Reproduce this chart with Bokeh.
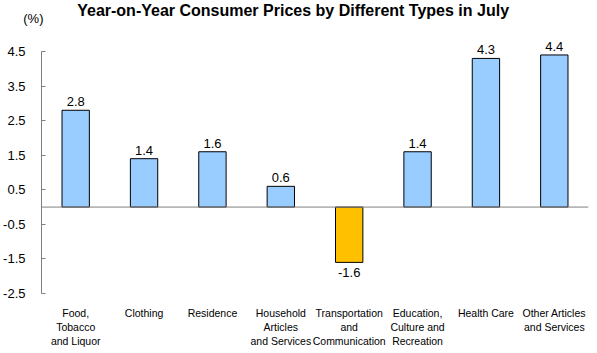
from bokeh.plotting import figure
from bokeh.layouts import column
from bokeh.models import ColumnDataSource, Range1d, FixedTicker, Span, NumeralTickFormatter
from bokeh.core.properties import value
from bokeh.embed import file_html
from bokeh.resources import INLINE

title_text = "Year-on-Year Consumer Prices by Different Types in July"
unit_text = "(%)"
categories = ["Food,\nTobacco\nand Liquor", "Clothing", "Residence", "Household\nArticles\nand Services",
              "Transportation\nand\nCommunication", "Education,\nCulture and\nRecreation", "Health Care",
              "Other Articles\nand Services"]
values = [2.8, 1.4, 1.6, 0.6, -1.6, 1.6, 4.3, 4.4]
value_labels = ["2.8", "1.4", "1.6", "0.6", "-1.6", "1.4", "4.3", "4.4"]
y_ticks = [-2.5, -1.5, -0.5, 0.5, 1.5, 2.5, 3.5, 4.5]

FONT = "Liberation Sans"
W, H = 597, 353
HEAD_H = 40
LEFT, RIGHT = 41, 9
xs = [i + 0.5 for i in range(len(categories))]
colors = ["#99CCFF" if v >= 0 else "#FFC000" for v in values]
x_range = Range1d(0, len(categories))

# ---- header: title and unit label ----
head = figure(width=W, height=HEAD_H, output_backend="svg", toolbar_location=None,
              x_range=x_range, y_range=Range1d(0, HEAD_H), x_axis_location=None,
              min_border_left=LEFT, min_border_right=RIGHT, min_border_top=0, min_border_bottom=0)
head.outline_line_color = None
head.xgrid.visible = False
head.ygrid.visible = False
unit_y = HEAD_H - 18
hy = head.yaxis[0]
hy.ticker = FixedTicker(ticks=[unit_y])
hy.major_label_overrides = {unit_y: unit_text}
hy.axis_line_color = None
hy.major_tick_line_color = None
hy.minor_tick_line_color = None
hy.major_tick_in = 0
hy.major_tick_out = 0
hy.major_label_standoff = -2
hy.major_label_text_font = FONT
hy.major_label_text_font_size = "13px"
hy.major_label_text_color = "black"
head.text(x=[3.68], y=[HEAD_H - 10], text=[title_text], text_align="center",
          text_baseline="middle", text_font=value(FONT), text_font_size="16px",
          text_font_style="bold", text_color="black")

# ---- main chart ----
px_per_unit = 34.57
bottom_border = 60
frame_h = (H - HEAD_H) - bottom_border
y_lo = min(y_ticks)
y_hi = y_lo + frame_h / px_per_unit

p = figure(width=W, height=H - HEAD_H, output_backend="svg", toolbar_location=None,
           x_range=x_range, y_range=Range1d(y_lo, y_hi),
           min_border_left=LEFT, min_border_right=RIGHT,
           min_border_top=0, min_border_bottom=bottom_border)
p.outline_line_color = None
p.xgrid.visible = False
p.ygrid.visible = False

ax = p.yaxis[0]
ax.ticker = FixedTicker(ticks=y_ticks)
ax.bounds = (min(y_ticks), max(y_ticks))
ax.formatter = NumeralTickFormatter(format="0.0")
ax.axis_line_color = "#808080"
ax.major_tick_line_color = "#808080"
ax.major_tick_in = 4
ax.major_tick_out = 0
ax.minor_tick_line_color = None
ax.major_label_standoff = 16
ax.major_label_text_font = FONT
ax.major_label_text_font_size = "13px"
ax.major_label_text_color = "black"

xa = p.xaxis[0]
xa.ticker = FixedTicker(ticks=xs)
xa.major_label_overrides = {x: c for x, c in zip(xs, categories)}
xa.axis_line_color = None
xa.major_tick_line_color = None
xa.minor_tick_line_color = None
xa.major_label_standoff = 7
xa.major_label_text_font = FONT
xa.major_label_text_font_size = "10.5px"
xa.major_label_text_line_height = 1.2
xa.major_label_text_color = "black"

p.add_layout(Span(location=0, dimension="width", line_color="#808080", line_width=1))

src = ColumnDataSource(dict(x=xs, top=values, color=colors))
p.vbar(x="x", top="top", bottom=0, width=0.4, fill_color="color", line_color="black",
       line_width=1, source=src)

pos = [i for i, v in enumerate(values) if v >= 0]
neg = [i for i, v in enumerate(values) if v < 0]
pos_src = ColumnDataSource(dict(x=[xs[i] for i in pos], y=[values[i] for i in pos],
                                t=[value_labels[i] for i in pos]))
neg_src = ColumnDataSource(dict(x=[xs[i] for i in neg], y=[values[i] for i in neg],
                                t=[value_labels[i] for i in neg]))
p.text(x="x", y="y", text="t", source=pos_src, text_align="center", text_baseline="bottom",
       y_offset=-4, text_font=value(FONT), text_font_size="13px", text_color="black")
p.text(x="x", y="y", text="t", source=neg_src, text_align="center", text_baseline="top",
       y_offset=6, text_font=value(FONT), text_font_size="13px", text_color="black")

layout = column(head, p, spacing=0)
open("out.html", "w").write(file_html(layout, INLINE))
